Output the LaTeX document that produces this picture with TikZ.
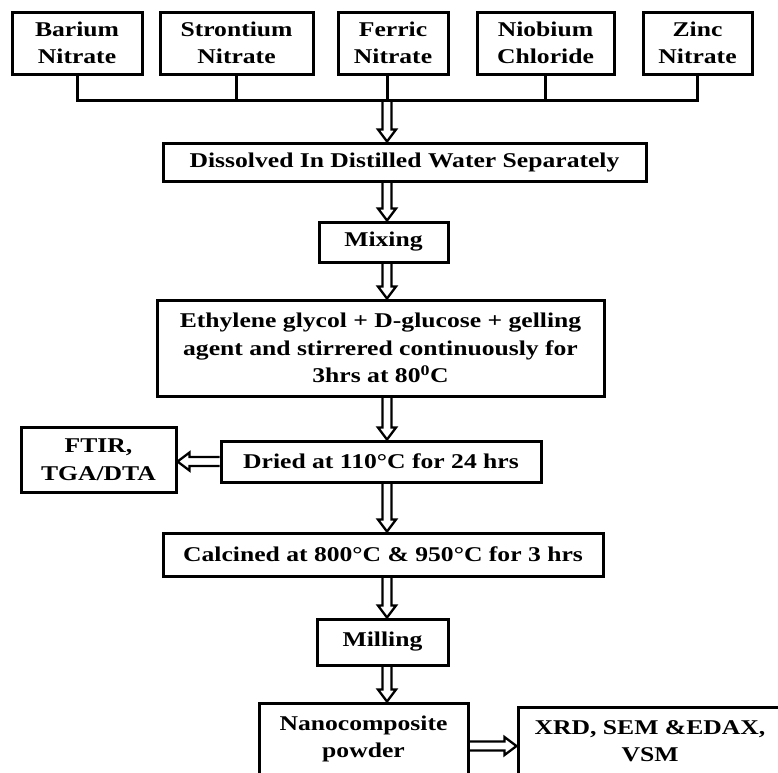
\documentclass[tikz,border=0pt]{standalone}
\usepackage{fontspec}
\setmainfont{Liberation Serif}[FakeStretch=1.22]
\usetikzlibrary{calc}
\newcommand\flowfont{\fontsize{21}{27.5}\selectfont\bfseries}
\tikzset{
  box/.style={draw, line width=3pt, inner sep=0pt, align=center, font=\flowfont, text=black},
  conn/.style={line width=3pt},
  darr/.style={line width=2.3pt, to path={let \p1=(\tikztostart), \p2=(\tikztotarget) in
     (\x1-4.5pt,\y1) -- (\x1-4.5pt,\y2+12pt) -- (\x1-9pt,\y2+12pt) -- (\x1,\y2)
     -- (\x1+9pt,\y2+12pt) -- (\x1+4.5pt,\y2+12pt) -- (\x1+4.5pt,\y1)}},
  rarr/.style={line width=2.3pt, to path={let \p1=(\tikztostart), \p2=(\tikztotarget) in
     (\x1,\y1+4.5pt) -- (\x2-12pt,\y1+4.5pt) -- (\x2-12pt,\y1+9pt) -- (\x2,\y1)
     -- (\x2-12pt,\y1-9pt) -- (\x2-12pt,\y1-4.5pt) -- (\x1,\y1-4.5pt)}},
  larr/.style={line width=2.3pt, to path={let \p1=(\tikztostart), \p2=(\tikztotarget) in
     (\x1,\y1+4.5pt) -- (\x2+12pt,\y1+4.5pt) -- (\x2+12pt,\y1+9pt) -- (\x2,\y1)
     -- (\x2+12pt,\y1-9pt) -- (\x2+12pt,\y1-4.5pt) -- (\x1,\y1-4.5pt)}},
}
\begin{document}
\begin{tikzpicture}[x=1pt,y=-1pt]
\useasboundingbox (0,0) rectangle (778,772);
\clip (0,0) rectangle (778,772);
\fill[white] (0,0) rectangle (778,772);

\node[box, minimum width=130pt, minimum height=62pt] (barium) at (77,43) {Barium\\Nitrate};
\node[box, minimum width=153pt, minimum height=62pt] (stront) at (236.5,43) {Strontium\\Nitrate};
\node[box, minimum width=110pt, minimum height=62pt] (ferric) at (393,43) {Ferric\\Nitrate};
\node[box, minimum width=137pt, minimum height=62pt] (niob) at (545.5,43) {Niobium\\Chloride};
\node[box, minimum width=109pt, minimum height=62pt] (zinc) at (697.5,43) {Zinc\\Nitrate};

\node[box, minimum width=483pt, minimum height=38pt] (diss) at (404.5,162) {Dissolved In Distilled Water Separately};
\node[box, minimum width=129pt, minimum height=40pt] (mix) at (383.5,242) {Mixing};
\node[box, minimum width=447pt, minimum height=96pt] (ethy) at (380.5,348) {Ethylene glycol + D-glucose + gelling\\agent and stirrered continuously for\\3hrs at 80\textsuperscript{0}C};
\node[box, minimum width=320pt, minimum height=41pt] (dried) at (381,461.5) {Dried at 110°C for 24 hrs};
\node[box, minimum width=155pt, minimum height=65pt] (ftir) at (98.5,459.5) {FTIR,\\TGA/DTA};
\node[box, minimum width=440pt, minimum height=43pt] (calc) at (383,554.5) {Calcined at 800°C \& 950°C for 3 hrs};
\node[box, minimum width=131pt, minimum height=46pt] (mill) at (382.5,642) {Milling};
\node[box, minimum width=209pt, minimum height=72pt] (nano) at (363.5,739) {Nanocomposite\\powder};
\node[box, minimum width=264pt, minimum height=68pt] (xrd) at (650,741) {XRD, SEM \&EDAX,\\VSM};

\coordinate (bus) at (0,100);
\coordinate (col) at (387,0);
\coordinate (hy) at (0,746);

\draw[conn] (barium.south) -- (barium.south |- bus) -- (zinc.south |- bus) -- (zinc.south);
\draw[conn] (stront.south) -- (stront.south |- bus);
\draw[conn] (ferric.south -| col) -- (col |- bus);
\draw[conn] (niob.south) -- (niob.south |- bus);

\draw[darr] (col |- bus) to (col |- diss.north);
\draw[darr] (col |- diss.south) to (col |- mix.north);
\draw[darr] (col |- mix.south) to (col |- ethy.north);
\draw[darr] (col |- ethy.south) to (col |- dried.north);
\draw[darr] (col |- dried.south) to (col |- calc.north);
\draw[darr] (col |- calc.south) to (col |- mill.north);
\draw[darr] (col |- mill.south) to (col |- nano.north);

\draw[larr] (dried.west) to (ftir.east |- dried.west);
\draw[rarr] (nano.east |- hy) to (xrd.west |- hy);
\end{tikzpicture}
\end{document}
